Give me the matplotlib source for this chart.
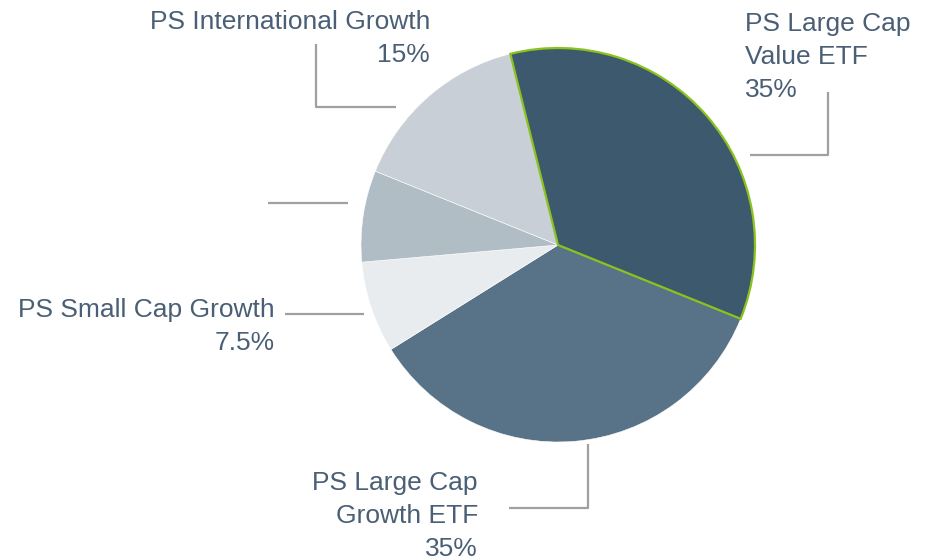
import matplotlib.pyplot as plt

# data
labels = ["PS Large Cap\nValue ETF", "PS Large Cap\nGrowth ETF", "PS Small Cap Growth", "", "PS International Growth"]
shares = [35, 35, 7.5, 7.5, 15]
pct_text = ["35%", "35%", "7.5%", "", "15%"]
colors = ["#3d596e", "#587387", "#e8ecef", "#b0bdc5", "#c9cfd6"]

W, H = 927, 560
cx, cy, r = 558, 245, 197

# label layout in pixels (y down): text x, text top y, alignment, leader line path
layout = [
    (745, 12, "left", [(750, 155), (828, 155), (828, 92)]),
    (478, 471, "right", [(509, 508), (588, 508), (588, 444)]),
    (275, 298, "right", [(285, 314), (364, 314)]),
    (None, None, None, [(268, 203), (348, 203)]),
    (430, 10, "right", [(316, 44), (316, 107), (396, 107)]),
]

plt.rcParams['font.family'] = ['Liberation Sans', 'DejaVu Sans']
fig = plt.figure(figsize=(W / 100, H / 100), dpi=100)
ax = fig.add_axes([0, 0, 1, 1])

wedges, _ = ax.pie(shares, colors=colors, startangle=104, counterclock=False,
                   center=(cx, H - cy), radius=r, frame=True,
                   wedgeprops=dict(edgecolor='white', linewidth=0.4))
wedges[0].set_edgecolor('#8cc21f')
wedges[0].set_linewidth(1.6)
wedges[0].set_zorder(3)
ax.set_xlim(0, W)
ax.set_ylim(0, H)
ax.set_aspect('equal')
ax.axis('off')

text_color = "#4a5f75"
for lab, pct, (tx, ty, ha, path) in zip(labels, pct_text, layout):
    xs = [p[0] for p in path]
    ys = [H - p[1] for p in path]
    ax.plot(xs, ys, color='#a0a0a0', lw=1.6, solid_capstyle='butt')
    if tx is None:
        continue
    ax.text(tx, H - ty, lab + "\n" + pct, ha=ha, va='top', fontsize=19,
            color=text_color, linespacing=1.47, multialignment=ha)

plt.savefig("out.png", dpi=100)
